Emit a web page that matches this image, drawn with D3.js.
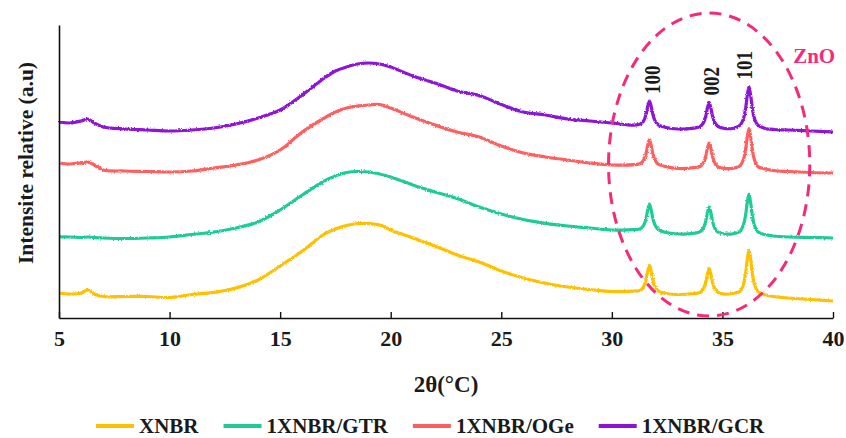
<!DOCTYPE html>
<html>
<head>
<meta charset="utf-8">
<script src="https://cdn.jsdelivr.net/npm/d3@7"></script>
<style>
  html, body { margin: 0; padding: 0; background: #fff; }
  svg text { font-family: "Liberation Serif", "Times New Roman", serif; font-weight: bold; fill: #1a1a1a; }
</style>
</head>
<body>
<svg id="chart" width="846" height="438"></svg>
<script>
// Diffraction angle grid (2θ, degrees)
const twoTheta = [5,5.5,6,6.3,6.6,7,8,9,10,11,12,13,14,15,16,17,17.5,18,18.5,19,19.5,20,21,22,23,24,25,26,27,28,29,30,31,31.3,31.45,31.55,31.62,31.7,31.78,31.85,31.95,32.1,32.4,33,33.7,34,34.15,34.25,34.32,34.4,34.48,34.55,34.65,34.8,35.1,35.5,35.8,35.95,36.05,36.12,36.2,36.28,36.35,36.45,36.6,36.9,37.3,38,39,40];

// Relative intensities (stacked, arbitrary units)
const xnbr = [25,24,25,28,24,21.5,21.5,21.5,20.5,23.5,25.7,30,38,52,67,84,89,92.5,94.5,94.5,93,88,80,72,63,56,47,40,34.7,31,28.5,26.5,26.8,27.8,31.9,38.8,46.5,52.7,46.4,38.6,31.5,27,24.8,23.5,24.5,25.6,29.6,36.2,43.7,49.5,43.7,36.2,29.6,25.6,23.8,24.7,26.8,33.6,45,57.9,68,57.9,45,33.5,26.6,23.4,21.5,20,18.5,17];
const gtr = [81,81,80.5,81,80.5,80,79.5,80,81,83.5,86,90,96,108,123,137,142,145.5,146.5,146,144,141,133,126,119.5,111,104,98.5,94.7,92,90,88,88.3,89.3,93.3,100.2,107.8,114,107.8,100,93,88.6,85.8,84,84.6,86.3,90.4,97.3,105,111,104.8,97,90,85.8,84,84.3,86.7,93,103.3,115,124,114.8,103,92.5,86.2,83.5,82,81,80.5,80];
const oge = [155,154,155,156,153,148,147,146.5,146,147,150,153,158,168,186,200,206,210,212,213,213.5,210,201,193,186,181,172,165,161,158,155,153,153.3,154.5,158.4,165,172.4,178.3,172.3,164.8,158,153.7,151.6,149.5,150.3,151.6,155.6,162.2,169.5,175,169.4,162,155.3,151.1,149.6,149.8,152.2,158.5,168.8,180.4,189.5,180.3,168.5,158,151.5,149.3,147.5,146.5,145.5,145];
const gcr = [196,195,197,199,195,191,189,188,187,188,190,194,200,208,223,240,247,251,254,255,254,251,242,235,227,222.5,213.5,206,203,199,197,195,192.8,194.1,197.8,204.2,211.3,217,211.3,204,197.3,193.1,190.8,189,189.8,191.6,195.6,202.2,209.7,215.5,209.7,202.2,195.6,191.6,189.5,189.8,192.8,199.2,210,222,231.5,222,210,199.2,192.8,189.8,188.5,188,187,186];

const seriesNames = ["XNBR", "1XNBR/GTR", "1XNBR/OGe", "1XNBR/GCR"];
const seriesValues = [xnbr, gtr, oge, gcr];
const seriesColors = ["#FFC000", "#1FCB95", "#FF5E5E", "#8C12D6"];

const xTicks = [5, 10, 15, 20, 25, 30, 35, 40];

// ZnO reflections
const peakLabels = ["100", "002", "101"];
const peakIndex = [37, 49, 60];
const peakLabelTheta = [31.88, 34.53, 36.02];

// ZnO highlight zone (2θ centre/half-width, intensity centre/half-height)
const zoneTheta = [34.4, 4.55];
const zoneIntensity = [153.5, 151.5];
const zoneLabel = "ZnO";
const zoneLabelAt = [38.2, 255];

const accent = "#F52A7B";

const svg = d3.select("#chart");
svg.append("rect").attr("width", 846).attr("height", 438).attr("fill", "#fff");

const x = d3.scaleLinear().domain([5, 40]).range([59, 833]);
const y = d3.scaleLinear().domain([0, 293]).range([318, 25]);

// slight roughness on the traces
const defs = svg.append("defs");
const f = defs.append("filter").attr("id", "rough").attr("x", "-2%").attr("y", "-5%").attr("width", "104%").attr("height", "110%");
f.append("feTurbulence").attr("type", "fractalNoise").attr("baseFrequency", "0.7").attr("numOctaves", 2).attr("seed", 3).attr("result", "n");
f.append("feDisplacementMap").attr("in", "SourceGraphic").attr("in2", "n").attr("scale", 2.6).attr("xChannelSelector", "R").attr("yChannelSelector", "G");

// traces
const line = d3.line().x(d => x(d[0])).y(d => y(d[1])).curve(d3.curveCatmullRom.alpha(0.5));
const traces = svg.append("g").attr("filter", "url(#rough)");
seriesValues.forEach((vals, i) => {
  traces.append("path")
    .datum(twoTheta.map((t, k) => [t, vals[k]]))
    .attr("fill", "none")
    .attr("stroke", seriesColors[i])
    .attr("stroke-width", 3.2)
    .attr("stroke-linejoin", "round")
    .attr("d", line);
});

// axes
const xAxis = d3.axisBottom(x).tickValues(xTicks).tickSizeInner(-6).tickSizeOuter(0).tickPadding(14);
const gx = svg.append("g").attr("transform", `translate(0,${y(0)})`).call(xAxis);
gx.select(".domain").attr("stroke", "#111").attr("stroke-width", 1.6);
gx.selectAll(".tick line").attr("stroke", "#111").attr("stroke-width", 1.4);
gx.selectAll(".tick text").attr("font-size", 22).attr("fill", "#1a1a1a").attr("dy", "0.62em")
  .style("font-family", "'Liberation Serif', serif").style("font-weight", "bold");

const yAxis = d3.axisLeft(y).tickValues([]).tickSizeOuter(0);
const gy = svg.append("g").attr("transform", `translate(${x(5)},0)`).call(yAxis);
gy.select(".domain").attr("stroke", "#111").attr("stroke-width", 1.6);

// axis titles
svg.append("text").attr("x", 446).attr("y", 392).attr("text-anchor", "middle").attr("font-size", 23).text("2θ(°C)");
svg.append("text").attr("transform", "translate(33,163) rotate(-90)").attr("text-anchor", "middle").attr("font-size", 21.5).text("Intensite relative (a.u)");

// ZnO zone
svg.append("ellipse")
  .attr("cx", x(zoneTheta[0]))
  .attr("cy", y(zoneIntensity[0]))
  .attr("rx", x(zoneTheta[0] + zoneTheta[1]) - x(zoneTheta[0]))
  .attr("ry", y(0) - y(zoneIntensity[1]))
  .attr("fill", "none")
  .attr("stroke", accent)
  .attr("stroke-width", 3)
  .attr("stroke-dasharray", "12,8");

svg.append("text").attr("x", x(zoneLabelAt[0])).attr("y", y(zoneLabelAt[1]))
  .attr("font-size", 21).style("fill", accent).text(zoneLabel);

// reflection indices
peakLabels.forEach((lab, i) => {
  const px = x(peakLabelTheta[i]);
  const py = y(gcr[peakIndex[i]]) - 7;
  svg.append("text")
    .attr("transform", `translate(${px + 7},${py}) rotate(-90) scale(1,1.25)`)
    .attr("font-size", 19)
    .text(lab);
});

// legend
const legend = svg.append("g").attr("transform", "translate(96,426)");
let cx = 0;
seriesNames.forEach((name, i) => {
  legend.append("line").attr("x1", cx).attr("x2", cx + 38).attr("y1", 0).attr("y2", 0)
    .attr("stroke", seriesColors[i]).attr("stroke-width", 4);
  const t = legend.append("text").attr("x", cx + 43).attr("y", 7).attr("font-size", 21).text(name);
  cx += 43 + t.node().getComputedTextLength() + 25;
});
</script>
</body>
</html>
